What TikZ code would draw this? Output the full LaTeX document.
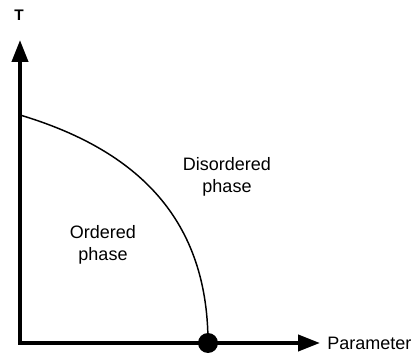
\documentclass[tikz,border=0pt]{standalone}
\usepackage{fontspec}
\setmainfont{Liberation Sans}
\usetikzlibrary{arrows.meta}
\tikzset{
  lbl/.style={font=\fontsize{13.5}{16.5}\selectfont, align=center, inner sep=0pt},
  critical/.style={circle, fill=black, minimum size=15pt, inner sep=0pt},
}
\begin{document}
\begin{tikzpicture}[x=0.75pt,y=-0.75pt]
\useasboundingbox (0,0) rectangle (415,356);
\coordinate (origin) at (20,343);
\coordinate (ytip) at (20,40);
\coordinate (xtip) at (320,343);
\coordinate (curvestart) at (20,115);
\coordinate (curveend) at (208,343);
\draw[line width=3pt, {Triangle[length=16.5pt,width=12pt]}-{Triangle[length=16.5pt,width=12pt]}] (ytip) -- (origin) -- (xtip);
\draw[line width=1.1pt] (curvestart) .. controls (130,148) and (208,213) .. (curveend);
\node[critical] (crit) at (curveend) {};
\node[font=\fontsize{11.5}{13}\selectfont\bfseries, inner sep=0pt] (T) at (19,15) {T};
\node[lbl, anchor=west] (param) at (327,343) {Parameter};
\node[lbl] (ordered) at (103,245) {Ordered\\phase};
\node[lbl] (disordered) at (227,177) {Disordered\\phase};
\end{tikzpicture}
\end{document}
